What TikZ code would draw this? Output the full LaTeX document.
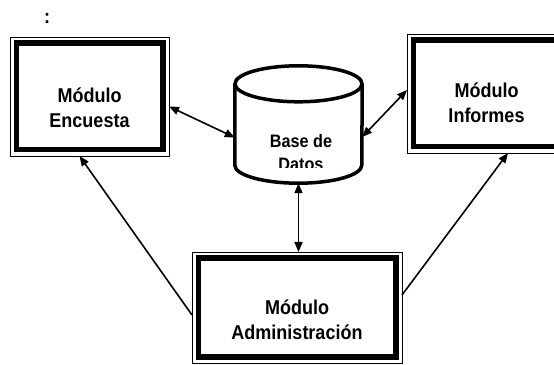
\documentclass[tikz,border=0pt]{standalone}
\usepackage{fontspec}
\setmainfont{Liberation Sans}[FakeStretch=0.9]
\usetikzlibrary{arrows.meta}

\begin{document}
\begin{tikzpicture}[
    x=1pt, y=1pt,
    modulo/.style={draw, line width=5.5pt, outer sep=6.25pt, inner sep=0pt, minimum width=146.5pt, minimum height=106.5pt},
    marco/.style={draw, line width=0.8pt},
    cilindro/.style={line width=3.5pt},
    texto/.style={align=center, inner sep=0pt, font=\bfseries\fontsize{20}{25}\selectfont},
    flecha/.style={-{Triangle[length=10pt,width=8pt]}, line width=1.6pt},
    dobleflecha/.style={{Triangle[length=10pt,width=8pt]}-{Triangle[length=10pt,width=8pt]}, line width=1.6pt}
]
\useasboundingbox (0,0) rectangle (554,364);
\node[texto] (dp) at (47,346) {:};
% modulos
\node[modulo] (enc) at (89.5,267.5) {};
\node[modulo] (inf) at (486.5,270.5) {};
\node[modulo, minimum width=197.5pt, minimum height=98.5pt] (adm) at (297,56.5) {};
\foreach \m in {enc,inf,adm}
  \draw[marco] (\m.north west) rectangle (\m.south east);
\node[texto] (enc-t) at (89.5,256) {Módulo\\Encuesta};
\node[texto] (inf-t) at (486.5,261) {Módulo\\Informes};
\node[texto] (adm-t) at (297,44) {Módulo\\Administración};
% base de datos
\node[inner sep=0pt, minimum width=127pt, minimum height=117pt] (bd) at (298.5,239.5) {};
\draw[cilindro] ([yshift=-18pt]bd.north) ellipse [x radius=63.5pt, y radius=18pt];
\draw[cilindro] ([yshift=-18pt]bd.north west) -- ([yshift=18pt]bd.south west)
  arc [start angle=180, end angle=360, x radius=63.5pt, y radius=18pt]
  -- ([yshift=-18pt]bd.north east);
\begin{scope}
  \clip (240,196) rectangle (360,232);
  \node[texto, font=\bfseries\fontsize{18}{23}\selectfont] (bd-t) at (301,211) {Base de\\Datos};
\end{scope}
% flechas
\draw[dobleflecha] ([yshift=-10pt]enc.east) -- ([yshift=-13pt]bd.west);
\draw[dobleflecha] ([yshift=-12.5pt]bd.east) -- ([yshift=3.5pt]inf.west);
\draw[dobleflecha] (bd.south) -- (bd.south |- adm.north);
\draw[flecha] ([yshift=-7.5pt]adm.west) -- ([xshift=-10pt]enc.south);
\draw[flecha] ([yshift=12.5pt]adm.east) -- ([xshift=21.5pt]inf.south);
\end{tikzpicture}
\end{document}
